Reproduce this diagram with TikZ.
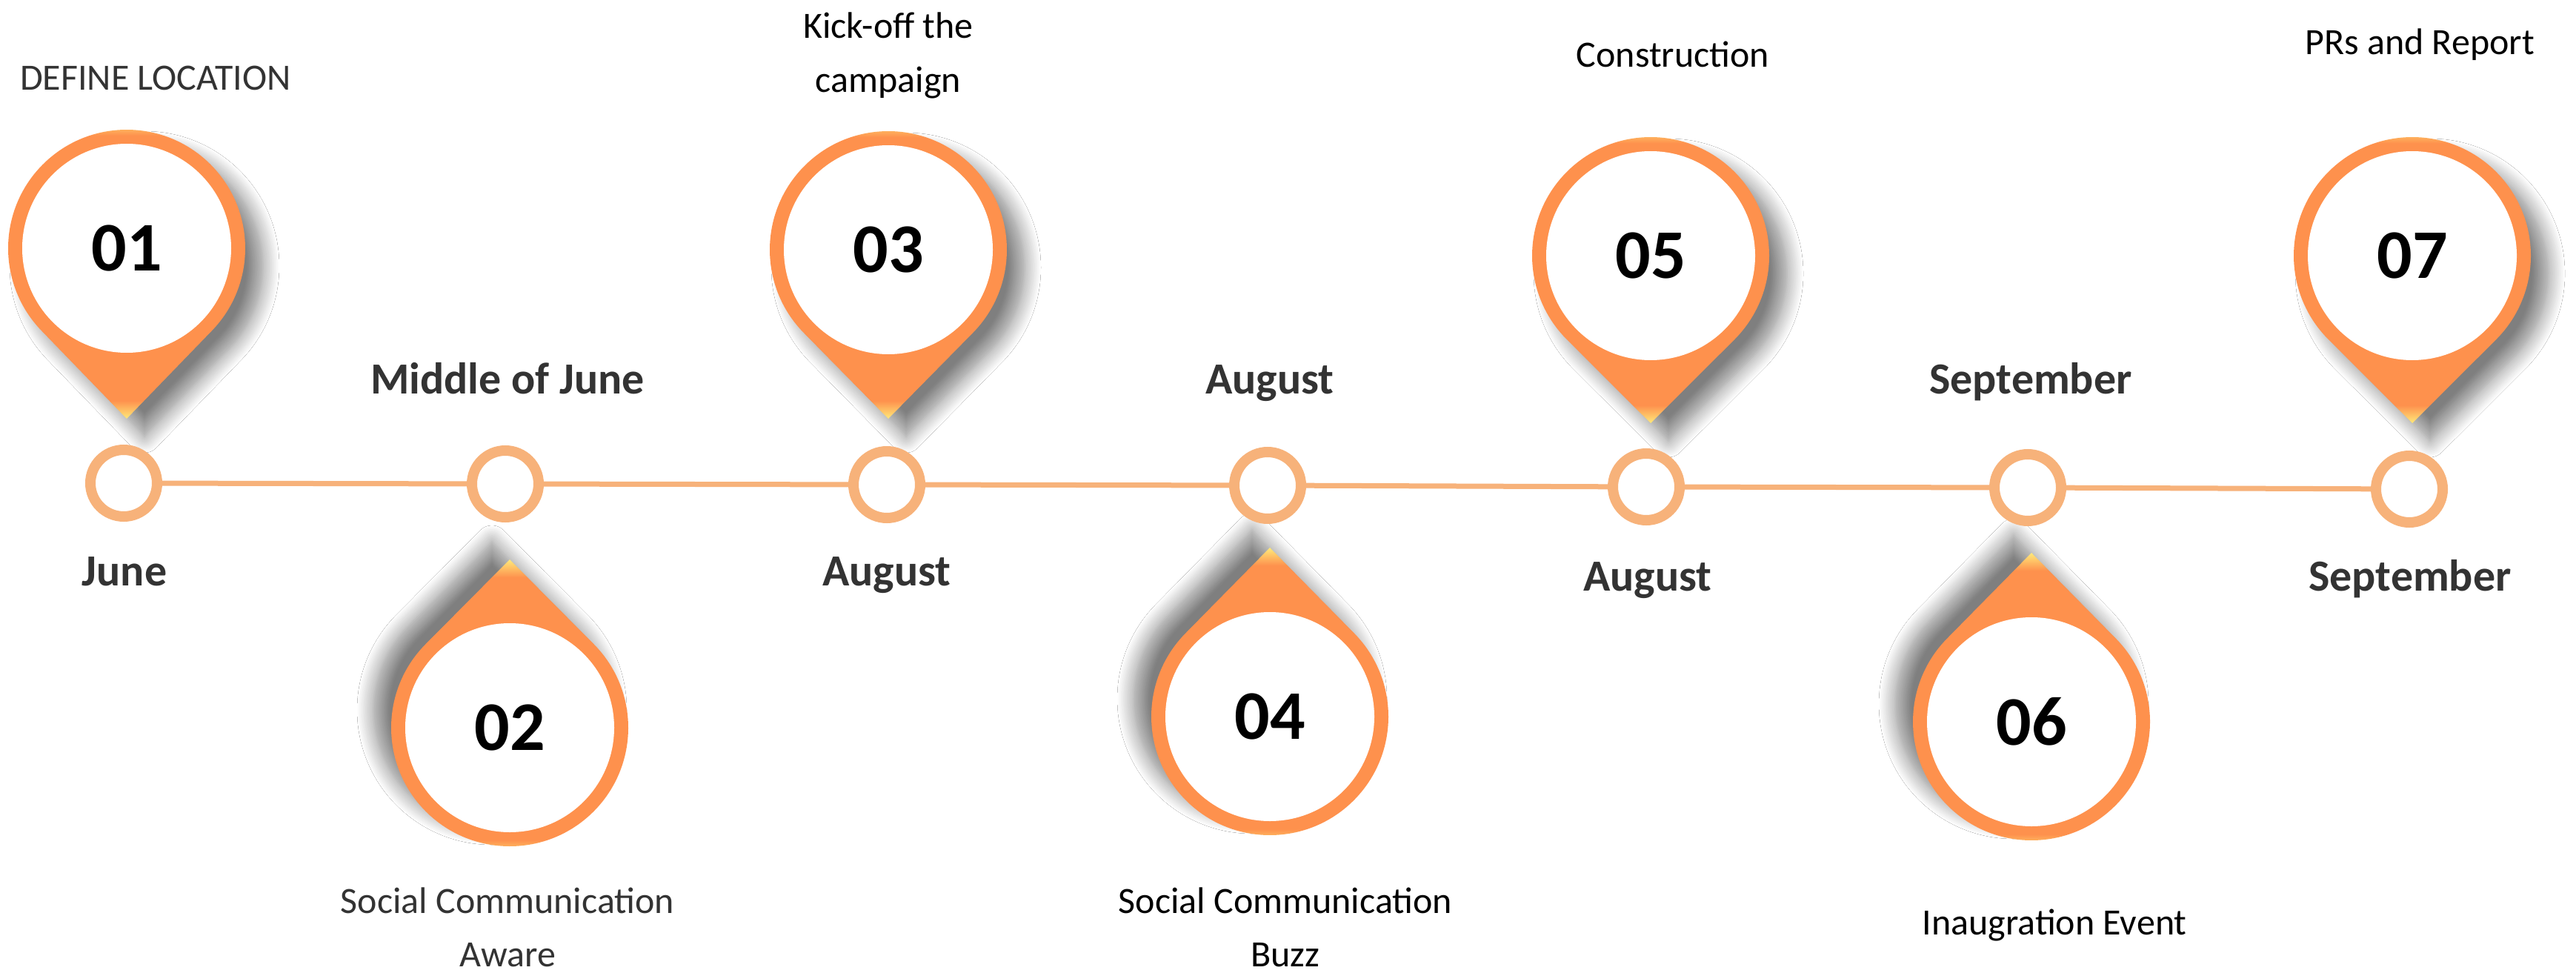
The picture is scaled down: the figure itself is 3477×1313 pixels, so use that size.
\documentclass[tikz,border=0pt]{standalone}
\usepackage{fontspec}
\setmainfont{Carlito}
\usetikzlibrary{shadows.blur,calc}
\definecolor{pinO}{HTML}{FE914D}
\definecolor{pinY}{HTML}{FFEA7A}
\definecolor{lineO}{HTML}{F7B27A}
\definecolor{txtG}{HTML}{333333}
\pgfdeclareverticalshading{pinshade}{100bp}{color(0bp)=(pinY); color(25bp)=(pinY); color(28bp)=(pinO); color(72bp)=(pinO); color(75bp)=(pinY); color(100bp)=(pinY)}
\newcommand{\droppin}[5]{%
  \pgfmathsetmacro{\pd}{abs(#4-#3)}%
  \pgfmathsetmacro{\pb}{acos(160/\pd)}%
  \pgfmathsetmacro{\pa}{ifthenelse(#4>#3,90,-90)}%
  \pgfmathsetmacro{\psx}{ifthenelse(#4>#3,24,-24)}%
  \pgfmathsetmacro{\psy}{ifthenelse(#4>#3,-24,24)}%
  \path[blur shadow={shadow xshift=\psx pt, shadow yshift=\psy pt, shadow blur radius=22pt, shadow blur steps=14, shadow opacity=50}, shading=pinshade]
    (#2,#4) -- ($(#2,#3)+(\pa+\pb:160)$) arc[start angle=\pa+\pb, end angle=\pa-\pb+360, radius=160] -- cycle;
  \node[pinface] (#1) at (#2,#3) {#5};
}
\tikzset{
  pinface/.style={circle, fill=white, minimum size=282pt, inner sep=0pt, font=\fontsize{94}{94}\selectfont\bfseries, text=black},
  dot/.style={circle, draw=lineO, line width=14pt, fill=white, minimum size=90pt, inner sep=0pt},
  tline/.style={draw=lineO, line width=7pt},
  month/.style={anchor=base, inner sep=0pt, font=\fontsize{60}{72}\selectfont\bfseries, text=txtG},
  desc/.style={anchor=base, inner sep=0pt, font=\fontsize{50}{72}\selectfont, text=black},
  descg/.style={desc, text=txtG}
}
\begin{document}
\begin{tikzpicture}[x=1pt, y=-1pt]
\fill[white] (0,0) rectangle (3477,1313);
\useasboundingbox (0,0) rectangle (3477,1313);

% pins
\droppin{p1}{171}{335}{565}{01}
\droppin{p3}{1199}{337}{565}{03}
\droppin{p5}{2228}{345}{571}{05}
\droppin{p7}{3256}{345}{571}{07}
\droppin{p2}{688}{982}{755}{02}
\droppin{p4}{1714}{967}{739}{04}
\droppin{p6}{2742}{974}{746}{06}

% timeline
\node[dot] (c1) at (167,652) {};
\node[dot] (c2) at (682,653) {};
\node[dot] (c3) at (1197,654) {};
\node[dot] (c4) at (1711,655) {};
\node[dot] (c5) at (2222,657) {};
\node[dot] (c6) at (2737,658) {};
\node[dot] (c7) at (3252,660) {};
\draw[tline] (c1) -- (c2);
\draw[tline] (c2) -- (c3);
\draw[tline] (c3) -- (c4);
\draw[tline] (c4) -- (c5);
\draw[tline] (c5) -- (c6);
\draw[tline] (c6) -- (c7);

% months
\node[month] (m1) at (168,790) {June};
\node[month] (m2) at (685,531) {Middle of June};
\node[month] (m3) at (1197,790) {August};
\node[month] (m4) at (1714,531) {August};
\node[month] (m5) at (2224,797) {August};
\node[month] (m6) at (2741,531) {September};
\node[month] (m7) at (3253,797) {September};

% descriptions
\node[descg] (d1) at (210,122) {DEFINE LOCATION};
\node[desc] (d3a) at (1199,52) {Kick-off the};
\node[desc] (d3b) at (1199,125) {campaign};
\node[desc] (d5) at (2258,91) {Construction};
\node[desc] (d7) at (3266,74) {PRs and Report};
\node[descg] (d2a) at (685,1232) {Social Communication};
\node[descg] (d2b) at (685,1304) {Aware};
\node[desc] (d4a) at (1735,1232) {Social Communication};
\node[desc] (d4b) at (1735,1304) {Buzz};
\node[desc] (d6) at (2773,1261) {Inaugration Event};
\end{tikzpicture}
\end{document}
